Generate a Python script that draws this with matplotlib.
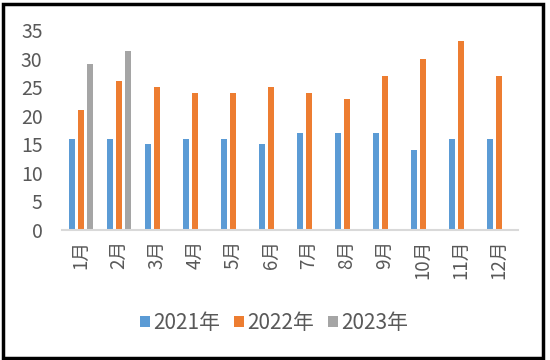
import numpy as np
import matplotlib
matplotlib.use("Agg")
import matplotlib.pyplot as plt
from matplotlib.patches import Rectangle

plt.rcParams['font.family'] = ['Noto Sans CJK SC', 'DejaVu Sans']
plt.rcParams['font.weight'] = 'light'

months = ['1月', '2月', '3月', '4月', '5月', '6月', '7月', '8月', '9月', '10月', '11月', '12月']
y2021 = [16, 16, 15, 16, 16, 15, 17, 17, 17, 14, 16, 16]
y2022 = [21, 26, 25, 24, 24, 25, 24, 23, 27, 30, 33, 27]
y2023 = [29, 31.4]

fig = plt.figure(figsize=(5.5, 3.6), dpi=100)
ax = fig.add_axes([62/550, 1-230/360, (518-62)/550, (230-30)/360])

x = np.arange(len(months))
w = 0.17
off = 0.23
ax.bar(x - off, y2021, w, color='#5B9BD5', label='2021年')
ax.bar(x, y2022, w, color='#ED7D31', label='2022年')
ax.bar(x[:len(y2023)] + off, y2023, w, color='#A5A5A5', label='2023年')

ax.set_xlim(-0.5, 11.5)
ax.set_ylim(0, 35)
ax.set_yticks(np.arange(0, 36, 5))
ax.set_xticks(x)
ax.set_xticklabels(months, rotation=90)
for s in ['top', 'right', 'left']:
    ax.spines[s].set_visible(False)
ax.spines['bottom'].set_color('#D9D9D9')
ax.spines['bottom'].set_linewidth(1.5)
ax.tick_params(axis='both', length=0, colors='#595959')
ax.tick_params(axis='y', labelsize=14, pad=14)
ax.tick_params(axis='x', labelsize=13.5, pad=7)

ax.legend(loc='center', bbox_to_anchor=(0.465, (230-323)/200), ncol=3,
          frameon=False, fontsize=15, handlelength=0.45, handleheight=0.45,
          handletextpad=0.15, columnspacing=0.7, labelcolor='#595959')

fig.patches.append(Rectangle((0.005, 0.006), 0.982, 0.984, transform=fig.transFigure,
                             fill=False, edgecolor='black', linewidth=2.5))

fig.savefig('out.png', dpi=100)
